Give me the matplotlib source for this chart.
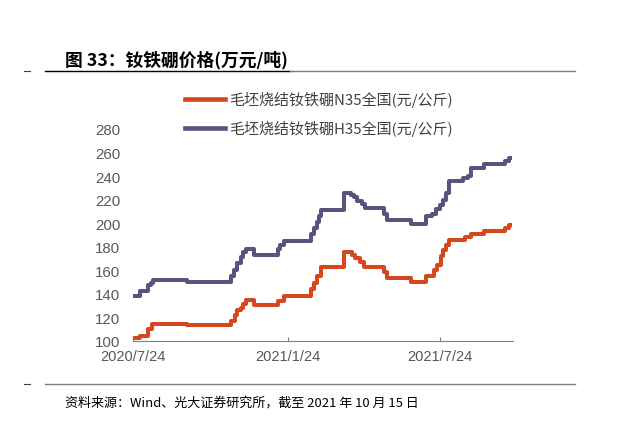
import numpy as np
import pandas as pd
import matplotlib
matplotlib.use('Agg')
import matplotlib.pyplot as plt
from matplotlib.lines import Line2D

plt.rcParams['font.family'] = ['Liberation Sans', 'Noto Sans CJK SC', 'DejaVu Sans']

# breakpoints (value holds until next date)
h35_dates = ['2020-07-24', '2020-08-01', '2020-08-11', '2020-08-14', '2020-08-17',
             '2020-09-26', '2020-11-17', '2020-11-21', '2020-11-25', '2020-11-29',
             '2020-12-02', '2020-12-05', '2020-12-15', '2021-01-12', '2021-01-15',
             '2021-01-20', '2021-02-21', '2021-02-24', '2021-02-28', '2021-03-02',
             '2021-03-05', '2021-04-01', '2021-04-09', '2021-04-13', '2021-04-17',
             '2021-04-22', '2021-04-26', '2021-05-19', '2021-05-22', '2021-06-20',
             '2021-07-07', '2021-07-15', '2021-07-19', '2021-07-24', '2021-07-28',
             '2021-07-31', '2021-08-04', '2021-08-21', '2021-08-26', '2021-08-30',
             '2021-09-15', '2021-10-10', '2021-10-14', '2021-10-15']
h35_vals = [138, 142, 147, 149, 152,
            150, 155, 160, 166, 171,
            175, 178, 173, 178, 181,
            185, 191, 196, 201, 206,
            211, 226, 224, 222, 219,
            216, 213, 208, 203, 199,
            206, 208, 212, 215, 220,
            226, 236, 238, 240, 247,
            250, 253, 255, 255]

n35_dates = ['2020-07-24', '2020-08-01', '2020-08-11', '2020-08-16', '2020-09-26',
             '2020-11-18', '2020-11-22', '2020-11-25', '2020-11-29', '2020-12-02',
             '2020-12-06', '2020-12-15', '2021-01-12', '2021-01-20', '2021-02-21',
             '2021-02-24', '2021-02-28', '2021-03-05', '2021-04-01', '2021-04-10',
             '2021-04-14', '2021-04-20', '2021-04-25', '2021-05-19', '2021-05-22',
             '2021-06-20', '2021-07-07', '2021-07-17', '2021-07-21', '2021-07-25',
             '2021-07-28', '2021-07-31', '2021-08-04', '2021-08-23', '2021-08-30',
             '2021-09-15', '2021-10-10', '2021-10-14', '2021-10-15']
n35_vals = [102, 104, 110, 114, 113,
            117, 122, 126, 128, 131,
            135, 130, 134, 138, 144,
            149, 155, 163, 175, 173,
            170, 167, 163, 158, 153,
            150, 155, 160, 164, 172,
            177, 181, 186, 188, 191,
            193, 196, 198, 198]

labels = ['毛坯烧结钕铁硼N35全国(元/公斤)', '毛坯烧结钕铁硼H35全国(元/公斤)']
tick_dates = ['2020-07-24', '2021-01-24', '2021-07-24']
tick_labels = ['2020/7/24', '2021/1/24', '2021/7/24']
title = '图 33：钕铁硼价格(万元/吨)'
source = '资料来源：Wind、光大证券研究所，截至 2021 年 10 月 15 日'

red = '#D4471F'
purple = '#575580'
W, H = 627, 427

fig = plt.figure(figsize=(W / 100, H / 100), dpi=100)
ax = fig.add_axes([133 / W, (H - 341.7) / H, 380 / W, 211.7 / H])

ax.plot(pd.to_datetime(n35_dates), n35_vals, color=red, lw=2.9, drawstyle='steps-post')
ax.plot(pd.to_datetime(h35_dates), h35_vals, color=purple, lw=2.9, drawstyle='steps-post')

ax.set_ylim(100, 280)
ax.set_yticks(np.arange(100, 281, 20))
ax.set_xlim(pd.Timestamp('2020-07-24'), pd.Timestamp('2021-10-19'))
ax.set_xticks(pd.to_datetime(tick_dates))
ax.set_xticklabels(tick_labels)

for s in ['top', 'right', 'left']:
    ax.spines[s].set_visible(False)
ax.spines['bottom'].set_color('#808080')
ax.spines['bottom'].set_linewidth(0.8)
ax.tick_params(axis='y', length=0, labelsize=10.8, colors='#595959', pad=9)
ax.tick_params(axis='x', direction='in', length=3, color='#808080', labelsize=10.5,
               labelcolor='#595959', pad=6)

handles = [Line2D([], [], color=red, lw=3.3), Line2D([], [], color=purple, lw=3.3)]
fig.legend(handles, labels, loc='upper left', bbox_to_anchor=(185 / W, 1 - 92.3 / H),
           frameon=False, borderpad=0, borderaxespad=0, handlelength=2.67,
           handletextpad=0.3, labelspacing=0.84, labelcolor='#404040',
           prop={'family': ['Noto Sans CJK SC'], 'size': 10.8})

# header / footer
fig.text(65 / W, 1 - 60 / H, title, fontsize=12.8, fontweight='bold', va='center',
         family=['Noto Sans CJK SC', 'DejaVu Sans'], color='black')
fig.add_artist(Line2D([45 / W, 290 / W], [1 - 72 / H] * 2, color='black', lw=1.0))
fig.add_artist(Line2D([290 / W, 575 / W], [1 - 72 / H] * 2, color='#7f7f7f', lw=1.0))
fig.add_artist(Line2D([24 / W, 30 / W], [1 - 72 / H] * 2, color='#404040', lw=0.8))
fig.add_artist(Line2D([45 / W, 575 / W], [1 - 385 / H] * 2, color='#7f7f7f', lw=1.0))
fig.add_artist(Line2D([24 / W, 30 / W], [1 - 385 / H] * 2, color='#404040', lw=0.8))
fig.text(65 / W, 1 - 403 / H, source, fontsize=9.4, va='center',
         family=['Noto Sans CJK SC', 'DejaVu Sans'], color='black')

fig.savefig('out.png', dpi=100)
